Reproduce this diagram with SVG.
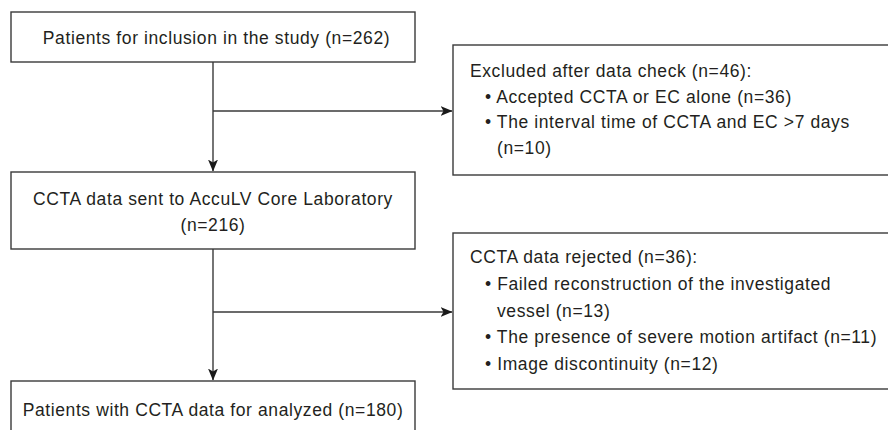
<svg xmlns="http://www.w3.org/2000/svg" width="888" height="430" viewBox="0 0 888 430">
<defs>
<style>
.box{fill:#fff;stroke:#3a3a3a;stroke-width:1.4}
.t{font-family:"Liberation Sans",Arial,sans-serif;font-size:17.5px;letter-spacing:0.6px;fill:#231f20}
.c{text-anchor:middle}
.ln{fill:none;stroke:#3a3a3a;stroke-width:1.4}
</style>
<marker id="ah" viewBox="0 0 12 10" refX="11.5" refY="5" markerWidth="12" markerHeight="10" markerUnits="userSpaceOnUse" orient="auto">
<path d="M0,0 L12,5 L0,10 L3,5 Z" fill="#1a1a1a"/>
</marker>
</defs>
<rect width="888" height="430" fill="#fff"/>
<g id="connectors">
<path class="ln" d="M213,62 V171" marker-end="url(#ah)"/>
<path class="ln" d="M213,111 H452" marker-end="url(#ah)"/>
<path class="ln" d="M213,249 V380" marker-end="url(#ah)"/>
<path class="ln" d="M213,312 H452" marker-end="url(#ah)"/>
</g>
<g id="n1">
<rect class="box" x="11" y="12" width="404" height="50"/>
<text class="t c" x="216.5" y="44">Patients for inclusion in the study (n=262)</text>
</g>
<g id="n2">
<rect class="box" x="453" y="45" width="440" height="130"/>
<text class="t" x="470" y="77">Excluded after data check (n=46):</text>
<text class="t" x="485" y="102.5">• Accepted CCTA or EC alone (n=36)</text>
<text class="t" x="485" y="128">• The interval time of CCTA and EC &gt;7 days</text>
<text class="t" x="497" y="153.5">(n=10)</text>
</g>
<g id="n3">
<rect class="box" x="11" y="172" width="404" height="77"/>
<text class="t c" x="213" y="205">CCTA data sent to AccuLV Core Laboratory</text>
<text class="t c" x="213" y="231">(n=216)</text>
</g>
<g id="n4">
<rect class="box" x="453" y="233" width="440" height="156"/>
<text class="t" x="470" y="263">CCTA data rejected (n=36):</text>
<text class="t" x="485" y="290">• Failed reconstruction of the investigated</text>
<text class="t" x="497" y="317">vessel (n=13)</text>
<text class="t" x="485" y="343">• The presence of severe motion artifact (n=11)</text>
<text class="t" x="485" y="370">• Image discontinuity (n=12)</text>
</g>
<g id="n5">
<rect class="box" x="11" y="381" width="404" height="60"/>
<text class="t c" x="213" y="416">Patients with CCTA data for analyzed (n=180)</text>
</g>
</svg>
